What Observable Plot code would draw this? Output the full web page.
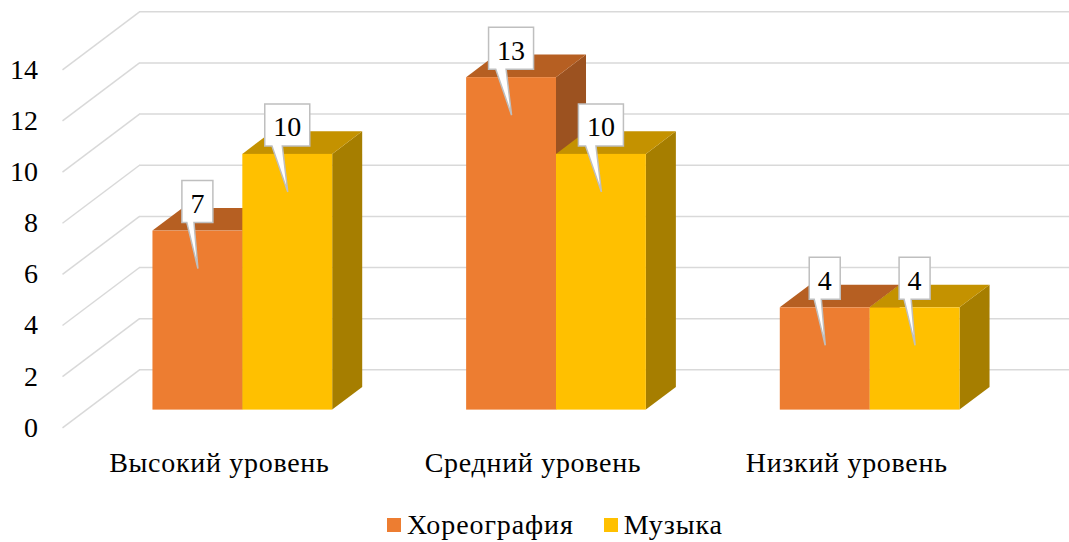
<!DOCTYPE html>
<html>
<head>
<meta charset="utf-8">
<script src="https://cdn.jsdelivr.net/npm/d3@7"></script>
<script src="https://cdn.jsdelivr.net/npm/@observablehq/plot@0.6"></script>
<style>
  body { margin: 0; background: #fff; }
  #chart svg { display: block; font-family: "Liberation Serif", "Times New Roman", serif; }
  .legend { display: flex; align-items: center; height: 70px; padding-left: 387px;
            font-family: "Liberation Serif", "Times New Roman", serif; font-size: 28px; color: #000; letter-spacing: 0.9px; }
  .legend .item { display: flex; align-items: center; margin-right: 30px; }
  .legend .sw { width: 14px; height: 14px; margin-right: 6px; }
</style>
</head>
<body>
<div id="chart"></div>
<div class="legend" id="legend"></div>
<script>
// ---- data ----
const categories = ["Высокий уровень", "Средний уровень", "Низкий уровень"];
const seriesNames = ["Хореография", "Музыка"];
const choreography = [7, 13, 4];
const music = [10, 10, 4];
const yTicks = [0, 2, 4, 6, 8, 10, 12, 14];

// ---- styles / geometry (3D look) ----
const FONT = "'Liberation Serif', 'Times New Roman', serif";
const frontColors = ["#ED7D31", "#FFC000"];
const topColors = ["#B65F22", "#C49200"];
const sideColors = ["#9C5220", "#A67E00"];
const GRID = "#d9d9d9";
const DX = 0.2455, DY = 2.268;     // full depth of the plot box (x units, y units)
const OFFX = 0.0749, OFFY = 0.692; // bar front plane offset
const DDX = 0.0957, DDY = 0.885;   // bar depth
const GAP = 0.2135, BW = 0.2865;   // bar gap inside category, bar width

const seriesValues = [choreography, music];
const rows = [];
categories.forEach((c, i) => {
  seriesValues.forEach((vals, s) => {
    const x1 = i + GAP + s * BW + OFFX;
    rows.push({id: i + "-" + s, cat: c, series: seriesNames[s], value: vals[i],
      x1, x2: x1 + BW, y1: OFFY, y2: vals[i] + OFFY,
      front: frontColors[s], top: topColors[s], side: sideColors[s]});
  });
});
const sidePts = rows.flatMap(r => [
  {id: r.id, x: r.x2, y1: r.y1, y2: r.y2, fill: r.side},
  {id: r.id, x: r.x2 + DDX, y1: r.y1 + DDY, y2: r.y2 + DDY, fill: r.side}
]);
const topPts = rows.flatMap(r => [
  {id: r.id, y: r.y2, x1: r.x1, x2: r.x2, fill: r.top},
  {id: r.id, y: r.y2 + DDY, x1: r.x1 + DDX, x2: r.x2 + DDX, fill: r.top}
]);

function calloutMark(data) {
  return function(index, scales, values, dimensions, context) {
    const {x, y} = scales;
    const g = d3.create("svg:g");
    for (const d of data) {
      const cx = x((d.x1 + d.x2) / 2);
      const top = y(d.y2);
      const label = String(d.value);
      const w = label.length * 14 + 17, h = 42;
      const bb = top - 8, bt = bb - h, bl = cx - w / 2, br = cx + w / 2;
      const pl = cx - 0.34 * w, pr = cx - 0.11 * w, tx = cx + 0.5, ty = top + 38;
      g.append("path")
        .attr("d", `M${bl},${bt}H${br}V${bb}H${pr}L${tx},${ty}L${pl},${bb}H${bl}Z`)
        .attr("fill", "#fff").attr("stroke", "#bfbfbf").attr("stroke-width", 1.5);
      g.append("text").attr("x", cx).attr("y", bb - 9.5)
        .attr("text-anchor", "middle").attr("font-size", 28)
        .attr("font-family", FONT).attr("fill", "#000")
        .text(label);
    }
    return g.node();
  };
}

const chart = Plot.plot({
  width: 1069, height: 490,
  marginLeft: 62, marginRight: 66, marginTop: 69.3, marginBottom: 62.7,
  x: {domain: [0, 3], axis: null},
  y: {domain: [0, 14], axis: null},
  color: {type: "identity"},
  style: {fontFamily: FONT, fontSize: "28px", color: "#000", background: "#fff"},
  marks: [
    Plot.ruleY(yTicks, {y: d => d + DY, x1: () => DX, x2: () => 3.25, stroke: GRID, strokeWidth: 1.5}),
    Plot.link(yTicks, {x1: () => 0, y1: d => d, x2: () => DX, y2: d => d + DY, stroke: GRID, strokeWidth: 1.5}),
    Plot.areaY(sidePts, {x: "x", y1: "y1", y2: "y2", z: "id", fill: "fill"}),
    Plot.areaX(topPts, {y: "y", x1: "x1", x2: "x2", z: "id", fill: "fill"}),
    Plot.rect(rows, {x1: "x1", x2: "x2", y1: "y1", y2: "y2", fill: "front"}),
    Plot.axisY({ticks: yTicks, tickSize: 0, tickPadding: 24.5, fontSize: 28, fontFamily: FONT, label: null}),
    Plot.axisX({ticks: [0.5, 1.5, 2.5], tickFormat: d => categories[Math.floor(d)], tickSize: 0, tickPadding: 24.5,
                fontSize: 28, fontFamily: FONT, label: null, ariaLabel: "category-axis"}),
    calloutMark(rows)
  ]
});
// slightly wider letter spacing on category labels, as in the reference
d3.select(chart).selectAll("g[aria-label^='category-axis'] text").style("letter-spacing", "0.7px");
document.getElementById("chart").append(chart);

const legend = document.getElementById("legend");
seriesNames.forEach((name, s) => {
  const item = document.createElement("div");
  item.className = "item";
  const sw = document.createElement("div");
  sw.className = "sw";
  sw.style.background = frontColors[s];
  const t = document.createElement("span");
  t.textContent = name;
  item.append(sw, t);
  legend.append(item);
});
</script>
</body>
</html>
